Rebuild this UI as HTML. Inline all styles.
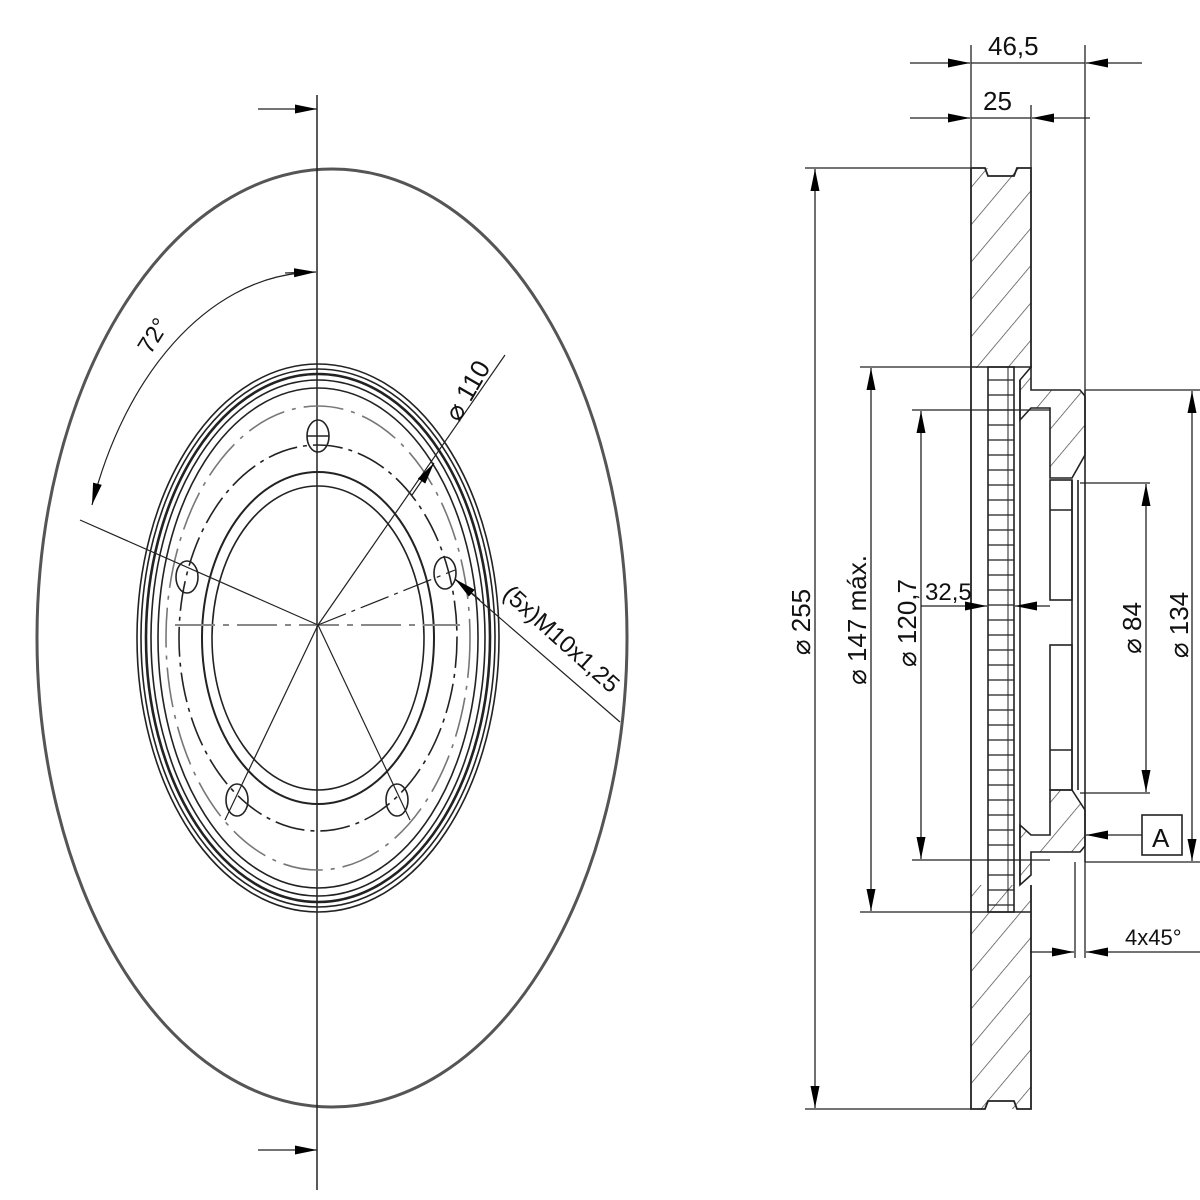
<!DOCTYPE html>
<html><head><meta charset="utf-8"><style>
html,body{margin:0;padding:0;background:#fff;}
svg{display:block;}
text{font-family:"Liberation Sans",sans-serif;fill:#111;}
</style></head><body>
<svg width="1200" height="1200" viewBox="0 0 1200 1200" xmlns="http://www.w3.org/2000/svg">
<defs>
<marker id="ar" viewBox="0 0 22 10" refX="22" refY="5" markerWidth="22" markerHeight="10" markerUnits="userSpaceOnUse" orient="auto"><path d="M0,0.5 L22,5 L0,9.5z" fill="#000"/></marker>
<pattern id="h" patternUnits="userSpaceOnUse" width="24" height="24" patternTransform="rotate(40)"><line x1="0" y1="0" x2="0" y2="24" stroke="#444" stroke-width="1.4"/></pattern>
</defs>
<g fill="none" stroke="#222" stroke-width="1.6">
<!-- LEFT VIEW -->
<ellipse cx="332" cy="638" rx="295" ry="469" stroke-width="3" stroke="#555"/>
<line x1="317" y1="95" x2="317" y2="1190" stroke-width="1.5"/>
<line x1="258" y1="109" x2="317" y2="109" marker-end="url(#ar)" stroke-width="1.2"/>
<line x1="258" y1="1150" x2="317" y2="1150" marker-end="url(#ar)" stroke-width="1.2"/>
<!-- hub rings -->
<ellipse cx="318" cy="638" rx="181" ry="274"/>
<ellipse cx="318" cy="638" rx="177" ry="269"/>
<ellipse cx="318" cy="638" rx="172" ry="264" stroke-width="2.6"/>
<ellipse cx="318" cy="638" rx="167" ry="258"/>
<ellipse cx="318" cy="638" rx="160" ry="250"/>
<ellipse cx="318" cy="638" rx="139" ry="193" stroke-dasharray="30,6,4,6"/>
<ellipse cx="318" cy="638" rx="152" ry="232" stroke-dasharray="40,8,4,8" stroke="#777"/>
<ellipse cx="318" cy="638" rx="116" ry="166" stroke-width="2"/>
<ellipse cx="318" cy="638" rx="106" ry="152"/>
<!-- holes -->
<g>
<ellipse cx="318" cy="436" rx="11" ry="16"/><line x1="307" y1="436" x2="329" y2="436"/>
<ellipse cx="187" cy="577" rx="11" ry="16"/>
<ellipse cx="445" cy="573" rx="11" ry="16"/>
<ellipse cx="237" cy="800" rx="11" ry="16"/>
<ellipse cx="397" cy="800" rx="11" ry="16"/>
</g>
<!-- center lines -->
<line x1="175" y1="625" x2="460" y2="625" stroke-dasharray="40,8,6,8" stroke="#888" stroke-width="2"/>
<line x1="80" y1="520" x2="318" y2="625" stroke-width="1.2"/>
<line x1="318" y1="625" x2="455" y2="570" stroke-dasharray="30,6,4,6" stroke-width="1.2"/>
<line x1="318" y1="625" x2="225" y2="820" stroke-width="1.2"/>
<line x1="318" y1="625" x2="410" y2="820" stroke-width="1.2"/>
<line x1="318" y1="625" x2="505" y2="355" stroke-width="1.2"/>
<line x1="412" y1="495" x2="434" y2="463" stroke-width="1.2" marker-end="url(#ar)"/>
<line x1="456" y1="580" x2="620" y2="722" stroke-width="1.2"/>
<line x1="480" y1="600" x2="455" y2="579" marker-end="url(#ar)" stroke-width="1.2"/>
<!-- 72 arc -->
<path d="M300,273 A240,365 0 0 0 92,505" stroke-width="1.2" marker-end="url(#ar)"/>
<line x1="285" y1="273" x2="316" y2="272" marker-end="url(#ar)" stroke-width="1.2"/>

<!-- RIGHT VIEW -->
<rect x="971" y="168" width="60" height="200" fill="url(#h)" stroke="none"/>
<rect x="971" y="885" width="60" height="224" fill="url(#h)" stroke="none"/>
<path d="M971,168 L985,168 L988,176 L1014,176 L1017,168 L1031,168 L1031,368 M971,168 L971,1109 L985,1109 L988,1101 L1014,1101 L1017,1109 L1031,1109 L1031,885" stroke-width="1.8"/>
<line x1="971" y1="367" x2="1031" y2="367"/>
<line x1="971" y1="912" x2="1031" y2="912"/>
<!-- fins -->
<rect x="988" y="367" width="26" height="545"/>
<path d="M988,380 H1014 M988,395 H1014 M988,410 H1014 M988,425 H1014 M988,440 H1014 M988,455 H1014 M988,470 H1014 M988,485 H1014 M988,500 H1014 M988,515 H1014 M988,530 H1014 M988,545 H1014 M988,560 H1014 M988,575 H1014 M988,590 H1014 M988,605 H1014 M988,620 H1014 M988,635 H1014 M988,650 H1014 M988,665 H1014 M988,680 H1014 M988,695 H1014 M988,710 H1014 M988,725 H1014 M988,740 H1014 M988,755 H1014 M988,770 H1014 M988,785 H1014 M988,800 H1014 M988,815 H1014 M988,830 H1014 M988,845 H1014 M988,860 H1014 M988,875 H1014 M988,890 H1014 M988,905 H1014" stroke-width="1.2"/>
<line x1="1008" y1="367" x2="1008" y2="912" stroke-width="1"/>
<!-- hub hatched section -->
<path d="M1031,367 L1031,390 L1080,390 L1085,396 L1085,455 L1072,478 L1050,478 L1050,408 L1031,408 L1020,420 L1020,380 Z" fill="url(#h)"/>
<path d="M1031,875 L1031,852 L1080,852 L1085,846 L1085,810 L1072,790 L1050,790 L1050,835 L1031,835 L1020,825 L1020,885 Z" fill="url(#h)"/>
<line x1="1020" y1="380" x2="1020" y2="885"/>
<line x1="1085" y1="390" x2="1085" y2="862"/>
<line x1="1078" y1="480" x2="1078" y2="790"/>
<line x1="1072" y1="480" x2="1072" y2="790"/>
<rect x="1050" y="480" width="22" height="120"/>
<rect x="1050" y="645" width="22" height="145"/>
<line x1="1050" y1="510" x2="1072" y2="510"/>
<line x1="1050" y1="750" x2="1072" y2="750"/>
<!-- dimensions -->
<g stroke-width="1.3">
<line x1="971" y1="45" x2="971" y2="168"/><line x1="1085" y1="45" x2="1085" y2="390"/><line x1="1031" y1="105" x2="1031" y2="168"/>
<line x1="910" y1="63" x2="970" y2="63" marker-end="url(#ar)"/><line x1="971" y1="63" x2="1085" y2="63"/><line x1="1142" y1="63" x2="1086" y2="63" marker-end="url(#ar)"/>
<line x1="910" y1="118" x2="970" y2="118" marker-end="url(#ar)"/><line x1="971" y1="118" x2="1031" y2="118"/><line x1="1090" y1="118" x2="1032" y2="118" marker-end="url(#ar)"/>
<line x1="805" y1="168" x2="971" y2="168"/><line x1="805" y1="1109" x2="971" y2="1109"/>
<line x1="815" y1="640" x2="815" y2="169" marker-end="url(#ar)"/><line x1="815" y1="640" x2="815" y2="1108" marker-end="url(#ar)"/>
<line x1="860" y1="367" x2="971" y2="367"/><line x1="860" y1="912" x2="971" y2="912"/>
<line x1="871" y1="640" x2="871" y2="368" marker-end="url(#ar)"/><line x1="871" y1="640" x2="871" y2="911" marker-end="url(#ar)"/>
<line x1="912" y1="410" x2="1050" y2="410"/><line x1="912" y1="860" x2="1050" y2="860"/>
<line x1="921" y1="640" x2="921" y2="411" marker-end="url(#ar)"/><line x1="921" y1="640" x2="921" y2="859" marker-end="url(#ar)"/>
<line x1="921" y1="606" x2="987" y2="606" marker-end="url(#ar)"/><line x1="1050" y1="606" x2="1015" y2="606" marker-end="url(#ar)"/>
<line x1="1085" y1="390" x2="1200" y2="390"/><line x1="1085" y1="862" x2="1200" y2="862"/>
<line x1="1192" y1="620" x2="1192" y2="391" marker-end="url(#ar)"/><line x1="1192" y1="620" x2="1192" y2="861" marker-end="url(#ar)"/>
<line x1="1080" y1="483" x2="1150" y2="483"/><line x1="1080" y1="793" x2="1150" y2="793"/>
<line x1="1146" y1="640" x2="1146" y2="484" marker-end="url(#ar)"/><line x1="1146" y1="640" x2="1146" y2="792" marker-end="url(#ar)"/>
<line x1="1142" y1="835" x2="1086" y2="835" marker-end="url(#ar)"/>
<rect x="1142" y="815" width="40" height="40" stroke-width="1.6"/>
<line x1="1075" y1="862" x2="1075" y2="958"/><line x1="1085" y1="862" x2="1085" y2="958"/>
<line x1="1030" y1="952" x2="1074" y2="952" marker-end="url(#ar)"/><line x1="1200" y1="952" x2="1086" y2="952" marker-end="url(#ar)"/>
</g>
</g>
<!-- texts -->
<text x="988" y="55" font-size="26">46,5</text>
<text x="983" y="110" font-size="26">25</text>
<text x="925" y="600" font-size="24">32,5</text>
<text x="1152" y="847" font-size="26">A</text>
<text x="1125" y="945" font-size="22">4x45°</text>
<text transform="translate(810,622) rotate(-90)" font-size="26" text-anchor="middle">⌀ 255</text>
<text transform="translate(866,620) rotate(-90)" font-size="26" text-anchor="middle">⌀ 147 máx.</text>
<text transform="translate(916,623) rotate(-90)" font-size="26" text-anchor="middle">⌀ 120,7</text>
<text transform="translate(1141,628) rotate(-90)" font-size="26" text-anchor="middle">⌀ 84</text>
<text transform="translate(1188,625) rotate(-90)" font-size="26" text-anchor="middle">⌀ 134</text>
<text transform="translate(475,395) rotate(-60)" font-size="26" text-anchor="middle">⌀ 110</text>
<text transform="translate(556,645) rotate(42)" font-size="24" text-anchor="middle">(5x)M10x1,25</text>
<text transform="translate(160,340) rotate(-58)" font-size="24" text-anchor="middle">72°</text>
</svg>
</body></html>
